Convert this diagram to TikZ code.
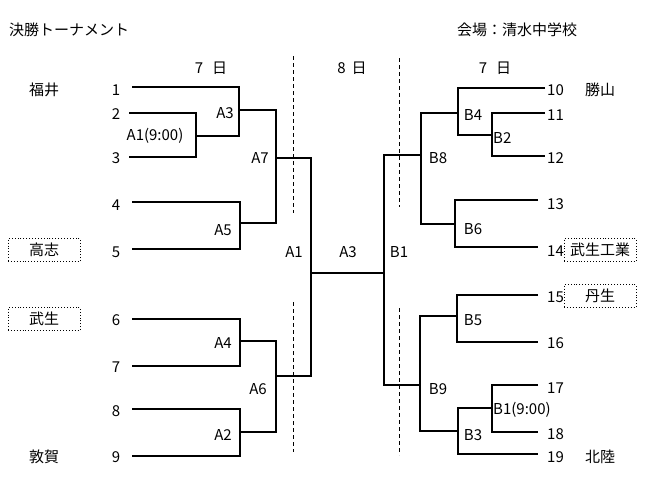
\documentclass[tikz,border=0pt]{standalone}
\usepackage{fontspec}
\setmainfont{Noto Sans CJK JP}

% seed on the left: number, line start x, line y, label y
\newcommand{\lseed}[4]{
    \coordinate (e#1) at (#2,#3);
    \node[num] (n#1) at (116,#4) {#1};
}
% seed on the right: number, line end x, line y, label y
\newcommand{\rseed}[4]{
    \coordinate (e#1) at (#2,#3);
    \node[num, anchor=west] (n#1) at (546,#4) {#1};
}

\tikzset{
    bline/.style={line width=1.1pt},
    sepline/.style={line width=0.9pt, dash pattern=on 4pt off 3pt},
    num/.style={font=\fontsize{15}{17}\selectfont, inner sep=1pt},
    mlabel/.style={font=\fontsize{15}{17}\selectfont, inner sep=1pt},
    team/.style={font=\fontsize{15}{17}\selectfont, inner sep=0pt},
    teambox/.style={team, draw, dotted, line width=0.9pt, minimum width=72pt, minimum height=23pt},
}

\begin{document}
\begin{tikzpicture}[x=1pt, y=-1pt]
    \useasboundingbox[fill=white] (0,0) rectangle (650,485);

    % headings
    \node[team, anchor=west] (title) at (9,30) {決勝トーナメント};
    \node[team, anchor=west] (venue) at (457,30) {会場：清水中学校};
    \node[team] (day7l) at (211,68) {7\hspace{0.6em}日};
    \node[team] (day8) at (352,68) {8\hspace{0.4em}日};
    \node[team] (day7r) at (495,68) {7\hspace{0.6em}日};

    % day separators
    \draw[sepline] (293,56) -- (293,213);
    \draw[sepline] (293,302) -- (293,452);
    \draw[sepline] (399,58) -- (399,207);
    \draw[sepline] (399,308) -- (399,455);

    % seeds
    \lseed{1}{132}{87}{90}
    \lseed{2}{129}{113}{114}
    \lseed{3}{129}{157}{158}
    \lseed{4}{132}{202}{205}
    \lseed{5}{132}{249}{252}
    \lseed{6}{132}{319}{320}
    \lseed{7}{132}{366}{367}
    \lseed{8}{132}{409}{411}
    \lseed{9}{132}{456}{457}
    \rseed{10}{545}{88}{90}
    \rseed{11}{545}{113}{115}
    \rseed{12}{545}{156}{158}
    \rseed{13}{538}{200}{204}
    \rseed{14}{538}{247}{251}
    \rseed{15}{538}{295}{297}
    \rseed{16}{538}{342}{343}
    \rseed{17}{538}{385}{388}
    \rseed{18}{538}{432}{434}
    \rseed{19}{538}{454}{457}

    % match joints
    \coordinate (a1) at (196,136);
    \coordinate (a3) at (239,110);
    \coordinate (a5) at (240,223);
    \coordinate (a7) at (276,158);
    \coordinate (a4) at (240,341);
    \coordinate (a2) at (240,432);
    \coordinate (a6) at (276,376);
    \coordinate (fl) at (311,273);
    \coordinate (fr) at (384,273);
    \coordinate (b2) at (492,135);
    \coordinate (b4) at (458,113);
    \coordinate (b6) at (455,224);
    \coordinate (b8) at (421,155);
    \coordinate (b1) at (492,408);
    \coordinate (b3) at (458,431);
    \coordinate (b5) at (457,316);
    \coordinate (b9) at (420,385);

    % left half
    \draw[bline] (e2) -| (a1) |- (e3);
    \draw[bline] (e1) -| (a3) |- (a1);
    \draw[bline] (e4) -| (a5) |- (e5);
    \draw[bline] (a3) -| (a7) |- (a5);
    \draw[bline] (e6) -| (a4) |- (e7);
    \draw[bline] (e8) -| (a2) |- (e9);
    \draw[bline] (a4) -| (a6) |- (a2);
    \draw[bline] (a7) -| (fl) |- (a6);
    \draw[bline] (fl) -- (fr);

    % right half
    \draw[bline] (e11) -| (b2) |- (e12);
    \draw[bline] (e10) -| (b4) |- (b2);
    \draw[bline] (e13) -| (b6) |- (e14);
    \draw[bline] (b4) -| (b8) |- (b6);
    \draw[bline] (e17) -| (b1) |- (e18);
    \draw[bline] (b1) -| (b3) |- (e19);
    \draw[bline] (e15) -| (b5) |- (e16);
    \draw[bline] (b5) -| (b9) |- (b3);
    \draw[bline] (b8) -| (fr) |- (b9);

    % match labels
    \node[mlabel] (la1) at (155,136) {A1(9:00)};
    \node[mlabel] (la3) at (225,113) {A3};
    \node[mlabel] (la5) at (223,230) {A5};
    \node[mlabel] (la7) at (260,158) {A7};
    \node[mlabel] (la4) at (223,343) {A4};
    \node[mlabel] (la2) at (223,435) {A2};
    \node[mlabel] (la6) at (258,389) {A6};
    \node[mlabel] (lfa1) at (294,252) {A1};
    \node[mlabel] (lfa3) at (348,252) {A3};
    \node[mlabel] (lfb1) at (399,252) {B1};
    \node[mlabel] (lb4) at (473,115) {B4};
    \node[mlabel, anchor=west] (lb2) at (492,138) {B2};
    \node[mlabel] (lb8) at (438,158) {B8};
    \node[mlabel] (lb6) at (473,229) {B6};
    \node[mlabel] (lb5) at (473,320) {B5};
    \node[mlabel] (lb9) at (438,389) {B9};
    \node[mlabel, anchor=west] (lb1) at (492,410) {B1(9:00)};
    \node[mlabel] (lb3) at (473,435) {B3};

    % teams
    \node[team] (fukui) at (44,90) {福井};
    \node[teambox] (koshi) at (44,250) {高志};
    \node[teambox] (takefu) at (44,319) {武生};
    \node[team] (tsuruga) at (44,457) {敦賀};
    \node[team] (katsuyama) at (600,90) {勝山};
    \node[teambox] (takefukogyo) at (600,250) {武生工業};
    \node[teambox] (nyu) at (600,296) {丹生};
    \node[team] (hokuriku) at (600,457) {北陸};
\end{tikzpicture}
\end{document}
